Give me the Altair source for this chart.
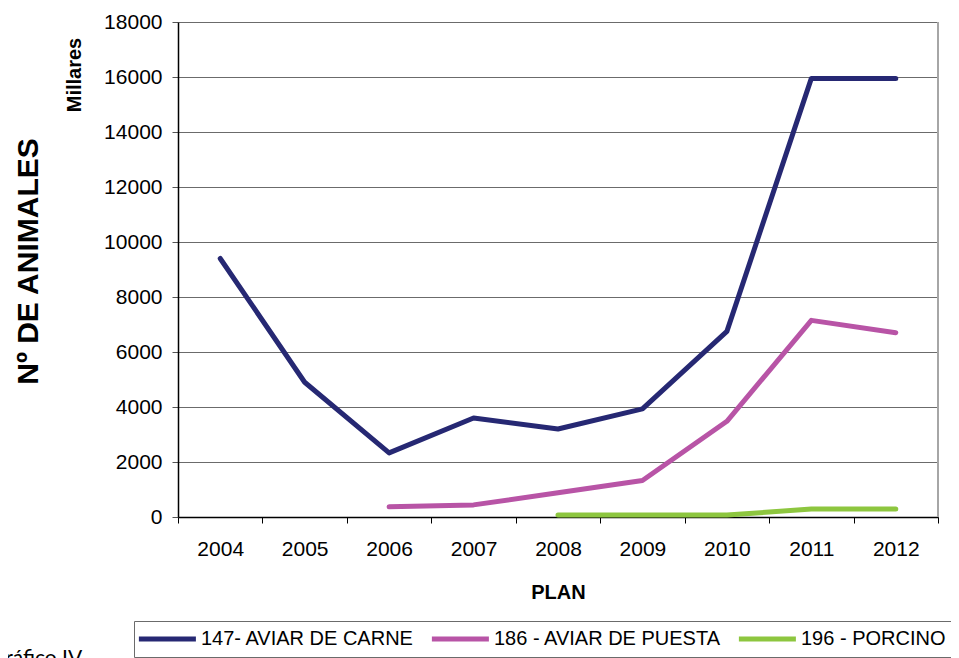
import altair as alt
import pandas as pd

years = ["2004", "2005", "2006", "2007", "2008", "2009", "2010", "2011", "2012"]
series_names = ["147- AVIAR DE CARNE", "186 - AVIAR DE PUESTA", "196 - PORCINO"]
carne = [9400, 4900, 2330, 3600, 3200, 3930, 6750, 15950, 15950]
puesta = [None, None, 370, 440, 880, 1330, 3480, 7150, 6700]
porcino = [None, None, None, None, 70, 70, 70, 290, 290]
colors = ["#262873", "#B854A6", "#8DC63F"]
y_ticks = list(range(0, 18001, 2000))

rows = []
for name, vals in zip(series_names, [carne, puesta, porcino]):
    for yr, v in zip(years, vals):
        if v is not None:
            rows.append({"plan": yr, "serie": name, "valor": v})
df = pd.DataFrame(rows)

FONT = "Liberation Sans"
W, H = 760, 495

lines = alt.Chart(df).mark_line(strokeWidth=5, strokeCap="round", strokeJoin="round").encode(
    x=alt.X("plan:O", sort=years, bandPosition=0.5,
            scale=alt.Scale(type="band", domain=years, paddingInner=0, paddingOuter=0),
            axis=alt.Axis(title="PLAN", labelAngle=0, tickBand="extent", tickSize=6,
                          labelPadding=15, labelFontSize=21, labelFont=FONT, labelColor="#000",
                          domainColor="#000", domainWidth=1.5, tickColor="#000",
                          titleFont=FONT, titleFontSize=20, titleFontWeight="bold",
                          titleColor="#000", titleY=81, titleBaseline="alphabetic", grid=False)),
    y=alt.Y("valor:Q", scale=alt.Scale(domain=[0, 18000], nice=False),
            axis=alt.Axis(title="Nº DE ANIMALES", values=y_ticks, format="d", tickSize=6,
                          labelPadding=10, labelFontSize=21, labelFont=FONT, labelColor="#000",
                          domainColor="#000", domainWidth=1.5, tickColor="#555",
                          gridColor="#6b6b6b", gridWidth=1,
                          titleFont=FONT, titleFontSize=30, titleFontWeight="bold",
                          titleColor="#000", titleAngle=270, titleX=-141, titleY=239,
                          titleAlign="center", titleBaseline="alphabetic")),
    color=alt.Color("serie:N", sort=series_names,
                    scale=alt.Scale(domain=series_names, range=colors),
                    legend=alt.Legend(title=None, orient="none", direction="horizontal",
                                      legendX=-44, legendY=599,
                                      symbolType="M-2.3,0L7.7,0", symbolSize=130,
                                      symbolStrokeWidth=5,
                                      labelFont=FONT, labelFontSize=20, labelColor="#000",
                                      labelLimit=0, labelOffset=39, columnPadding=6, padding=8,
                                      strokeColor="#6b6b6b", fillColor="white")),
)

millares = alt.Chart(pd.DataFrame({"t": ["Millares"]})).mark_text(
    angle=270, font=FONT, fontSize=20, fontWeight="bold", color="#000",
    align="center", baseline="alphabetic"
).encode(text="t:N", x=alt.value(-97), y=alt.value(53))

grafico = alt.Chart(pd.DataFrame({"t": ["Gráfico IV"]})).mark_text(
    font="Lato", fontSize=21, color="#000", align="left", baseline="alphabetic"
).encode(text="t:N", x=alt.value(-188), y=alt.value(643))

right_border = alt.Chart(pd.DataFrame({"t": [0]})).mark_rule(color="#a6a6a6", strokeWidth=2).encode(
    x=alt.value(W), y=alt.value(0), y2=alt.value(H)
)

chart = alt.layer(right_border, lines, millares, grafico).properties(
    width=W, height=H,
    autosize=alt.AutoSizeParams(type="none"),
    padding={"left": 170, "top": 14, "right": 13, "bottom": 141},
).configure_view(stroke=None)

chart.save("out.html", embed_options={"renderer": "svg", "actions": False})
